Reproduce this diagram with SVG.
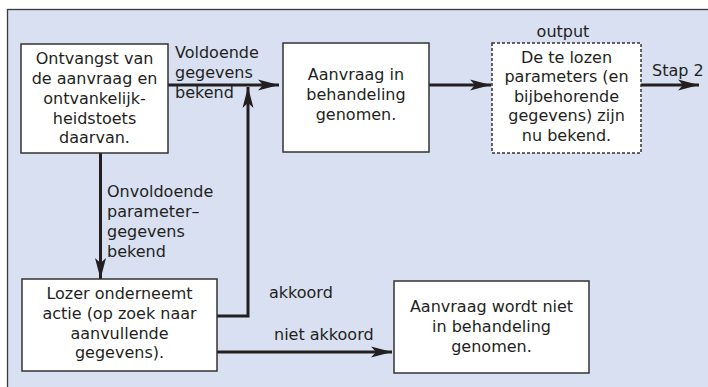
<svg xmlns="http://www.w3.org/2000/svg" width="708" height="387" viewBox="0 0 708 387">
<defs>
<style>
text{font-family:"DejaVu Sans","Liberation Sans",sans-serif;font-size:16px;fill:#231f20}
.c{text-anchor:middle}
.box{fill:#fff;stroke:#333;stroke-width:1.5}
.dash{fill:#fff;stroke:#333;stroke-width:1.5;stroke-dasharray:3 2}
.ln{fill:none;stroke:#231f20;stroke-width:3}
</style>
<marker id="ah" markerUnits="userSpaceOnUse" markerWidth="24" markerHeight="14" viewBox="-22 -7 23 14" refX="0" refY="0" orient="auto">
<path d="M0,0 L-21,-5.5 L-16,0 L-21,5.5 Z" fill="#231f20"/>
</marker>
</defs>
<rect x="7.5" y="9.5" width="720" height="400" fill="#d8e0f2" stroke="#3a3a3a" stroke-width="1.3"/>
<g id="connectors">
<path class="ln" d="M168,85 H279" marker-end="url(#ah)"/>
<path class="ln" d="M217,316 H248 V87" marker-end="url(#ah)"/>
<path class="ln" d="M429,85 H491" marker-end="url(#ah)"/>
<path class="ln" d="M641,85 H699" marker-end="url(#ah)"/>
<path class="ln" d="M100.5,153 V279" marker-end="url(#ah)"/>
<path class="ln" d="M217,352 H392" marker-end="url(#ah)"/>
<text x="175" y="58">Voldoende</text>
<text x="175" y="78">gegevens</text>
<text x="175" y="98">bekend</text>
<text x="107" y="197">Onvoldoende</text>
<text x="107" y="217">parameter–</text>
<text x="107" y="237">gegevens</text>
<text x="107" y="257">bekend</text>
<text x="269" y="298">akkoord</text>
<text x="274" y="340">niet akkoord</text>
<text x="652" y="76">Stap 2</text>
</g>
<g id="ontvangst">
<rect class="box" x="21" y="44" width="147" height="109"/>
<text class="c" x="94.5" y="64">Ontvangst van</text>
<text class="c" x="94.5" y="84">de aanvraag en</text>
<text class="c" x="94.5" y="103.5">ontvankelijk-</text>
<text class="c" x="94.5" y="123.5">heidstoets</text>
<text class="c" x="94.5" y="143">daarvan.</text>
</g>
<g id="behandeling">
<rect class="box" x="283" y="43" width="146" height="109"/>
<text class="c" x="356" y="80">Aanvraag in</text>
<text class="c" x="356" y="100">behandeling</text>
<text class="c" x="356" y="120">genomen.</text>
</g>
<g id="output">
<text class="c" x="563" y="37">output</text>
<rect class="dash" x="492" y="43" width="149" height="110"/>
<text class="c" x="566.5" y="62.5">De te lozen</text>
<text class="c" x="566.5" y="82">parameters (en</text>
<text class="c" x="566.5" y="101.5">bijbehorende</text>
<text class="c" x="566.5" y="121">gegevens) zijn</text>
<text class="c" x="566.5" y="140.5">nu bekend.</text>
</g>
<g id="lozer">
<rect class="box" x="22" y="279" width="195" height="92"/>
<text class="c" x="119.5" y="299">Lozer onderneemt</text>
<text class="c" x="119.5" y="319">actie (op zoek naar</text>
<text class="c" x="119.5" y="339">aanvullende</text>
<text class="c" x="119.5" y="358">gegevens).</text>
</g>
<g id="niet">
<rect class="box" x="394" y="281" width="195" height="92"/>
<text class="c" x="491.5" y="312">Aanvraag wordt niet</text>
<text class="c" x="491.5" y="332">in behandeling</text>
<text class="c" x="491.5" y="352">genomen.</text>
</g>
</svg>
